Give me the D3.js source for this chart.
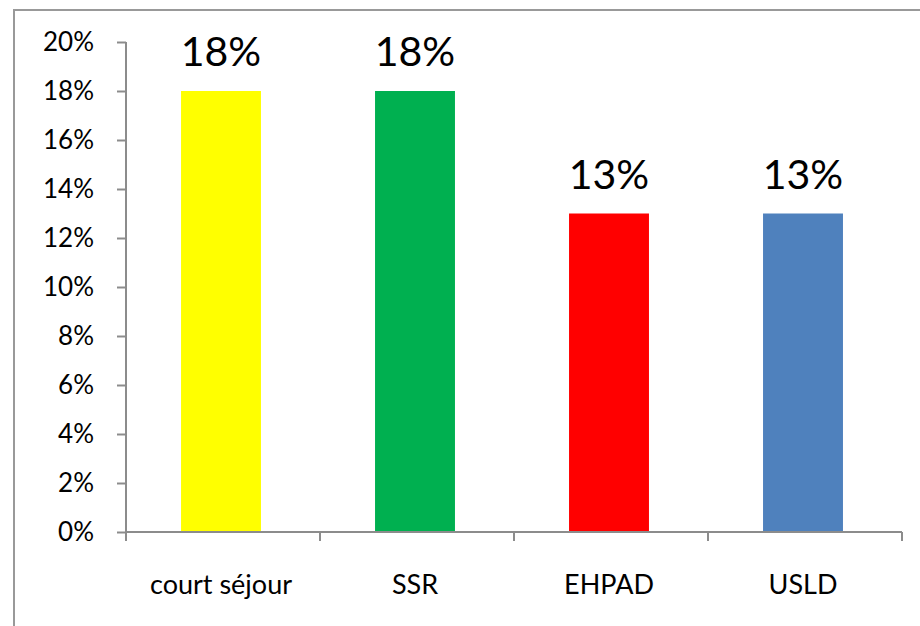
<!DOCTYPE html>
<html lang="fr">
<head>
  <meta charset="UTF-8">
  <title>Bar chart</title>
  <style>
    body { margin: 0; background: #fff; }
    text { font-family: Lato, "Open Sans", sans-serif; fill: #000; }
  </style>
</head>
<body>
  <script src="https://d3js.org/d3.v7.min.js"></script>
  <script>
    const categories = ["court séjour", "SSR", "EHPAD", "USLD"];
    const values = [0.18, 0.18, 0.13, 0.13];
    const colors = ["#FFFF00", "#00B050", "#FF0000", "#4F81BD"];
    const yTicks = [0, 0.02, 0.04, 0.06, 0.08, 0.10, 0.12, 0.14, 0.16, 0.18, 0.20];

    const width = 920;
    const height = 626;
    const axisColor = "#8c8c8c";

    const svg = d3.select("body").append("svg")
      .attr("width", width).attr("height", height);

    // chart frame (clipped on right and bottom in the original)
    svg.append("path")
      .attr("d", "M14," + (height + 5) + "V10H" + (width + 5))
      .attr("fill", "none")
      .attr("stroke", "#999")
      .attr("stroke-width", 2);

    const x = d3.scaleBand()
      .domain(categories)
      .range([126, 902])
      .paddingInner(0.588)
      .paddingOuter(0.294);

    const y = d3.scaleLinear()
      .domain([0, 0.2])
      .range([532, 42]);

    // bars
    svg.selectAll("rect.bar")
      .data(values)
      .enter()
      .append("rect")
      .attr("class", "bar")
      .attr("x", (d, i) => x(categories[i]) - 2)
      .attr("y", d => y(d))
      .attr("width", x.bandwidth())
      .attr("height", d => y(0) - y(d))
      .attr("fill", (d, i) => colors[i]);

    // y axis
    const gy = svg.append("g")
      .attr("transform", "translate(126,0)")
      .call(d3.axisLeft(y).tickValues(yTicks).tickFormat(d3.format(".0%")).tickSize(9).tickPadding(23));
    gy.selectAll("path, line").attr("stroke", axisColor).attr("stroke-width", 2);
    gy.select("path").attr("d", "M0," + y(0.2) + "V" + y(0));
    gy.selectAll("text").attr("font-size", 26).attr("font-family", "Lato").attr("fill", "#000");

    // x axis
    const gx = svg.append("g")
      .attr("transform", "translate(0," + y(0) + ")")
      .call(d3.axisBottom(x).tickSize(0).tickPadding(43));
    gx.select("path").attr("stroke", axisColor).attr("stroke-width", 2)
      .attr("d", "M" + x.range()[0] + ",0H" + x.range()[1]);
    gx.selectAll("text").attr("font-size", 27).attr("font-family", "Lato").attr("fill", "#000");
    gx.selectAll(".tick").attr("transform", d => "translate(" + (x(d) + x.bandwidth() / 2 - 2) + ",0)");

    const bounds = d3.range(categories.length + 1).map(i => x.range()[0] + i * x.step());
    gx.selectAll("line.bound")
      .data(bounds)
      .enter()
      .append("line")
      .attr("class", "bound")
      .attr("x1", d => d).attr("x2", d => d)
      .attr("y1", 0).attr("y2", 9)
      .attr("stroke", axisColor)
      .attr("stroke-width", 2);

    // value labels
    svg.selectAll("text.value")
      .data(values)
      .enter()
      .append("text")
      .attr("class", "value")
      .attr("x", (d, i) => x(categories[i]) + x.bandwidth() / 2 - 2)
      .attr("y", d => y(d) - 25)
      .attr("text-anchor", "middle")
      .attr("font-size", 41)
      .text(d => d3.format(".0%")(d));
  </script>
</body>
</html>
